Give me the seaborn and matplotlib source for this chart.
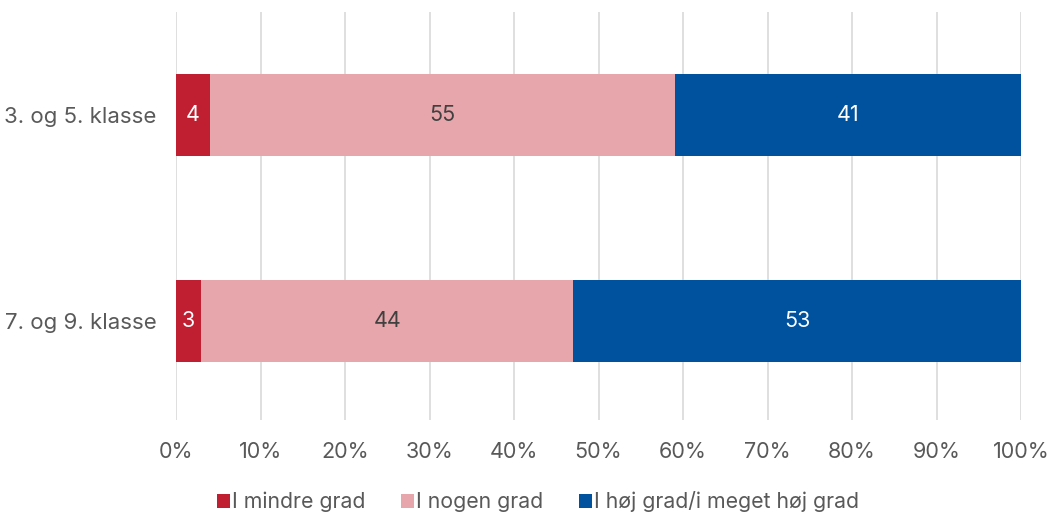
import numpy as np
import pandas as pd
import matplotlib
matplotlib.use("Agg")
import matplotlib.pyplot as plt
import seaborn as sns
from matplotlib.patches import Patch

categories = ["3. og 5. klasse", "7. og 9. klasse"]
series_names = ["I mindre grad", "I nogen grad", "I høj grad/i meget høj grad"]
mindre = [4, 3]
nogen = [55, 44]
hoj = [41, 53]
xticks = [0, 10, 20, 30, 40, 50, 60, 70, 80, 90, 100]
colors = ["#C01F32", "#E7A6AB", "#00519E"]
text_colors = ["white", "#404040", "white"]

sns.set_theme(style="white")
plt.rcParams['font.family'] = ['Inter', 'DejaVu Sans']

fig = plt.figure(figsize=(10.51, 5.13), dpi=100)
ax = fig.add_axes([0.1675, 0.181, 0.804, 0.7956])

vals = np.array([mindre, nogen, hoj], dtype=float)
cum = np.cumsum(vals, axis=0)
# draw from total to smallest so stacked look
for i in range(2, -1, -1):
    df = pd.DataFrame({"cat": categories, "v": cum[i]})
    sns.barplot(data=df, x="v", y="cat", orient="h", color=colors[i],
                width=0.4, ax=ax, linewidth=0, saturation=1, zorder=3)

for j, cat in enumerate(categories):
    left = 0
    for i in range(3):
        v = vals[i, j]
        ax.text(left + v / 2, j, f"{int(v)}", ha="center", va="center",
                color=text_colors[i], fontsize=15.5, zorder=5)
        left += v

ax.set_xlim(0, 100)
ax.set_ylim(1.48, -0.5)
ax.set_xticks(xticks)
ax.set_xticklabels([f"{t}%" for t in xticks])
ax.set_xlabel("")
ax.set_ylabel("")
ax.grid(axis="x", color="#D9D9D9", linewidth=1.2, zorder=0)
ax.set_axisbelow(True)
for s in ax.spines.values():
    s.set_visible(False)
ax.tick_params(axis="x", colors="#595959", labelsize=15.5, length=0, pad=16)
ax.tick_params(axis="y", colors="#595959", labelsize=16, length=0, pad=14)

handles = [Patch(facecolor=c, edgecolor="none") for c in colors]
fig.legend(handles, series_names, loc="lower center", bbox_to_anchor=(0.512, -0.036),
           ncol=3, frameon=False, fontsize=15.3, handlelength=0.6, handleheight=0.6,
           handletextpad=0.1, columnspacing=1.7, labelcolor="#595959")

fig.savefig("out.png", dpi=100)
